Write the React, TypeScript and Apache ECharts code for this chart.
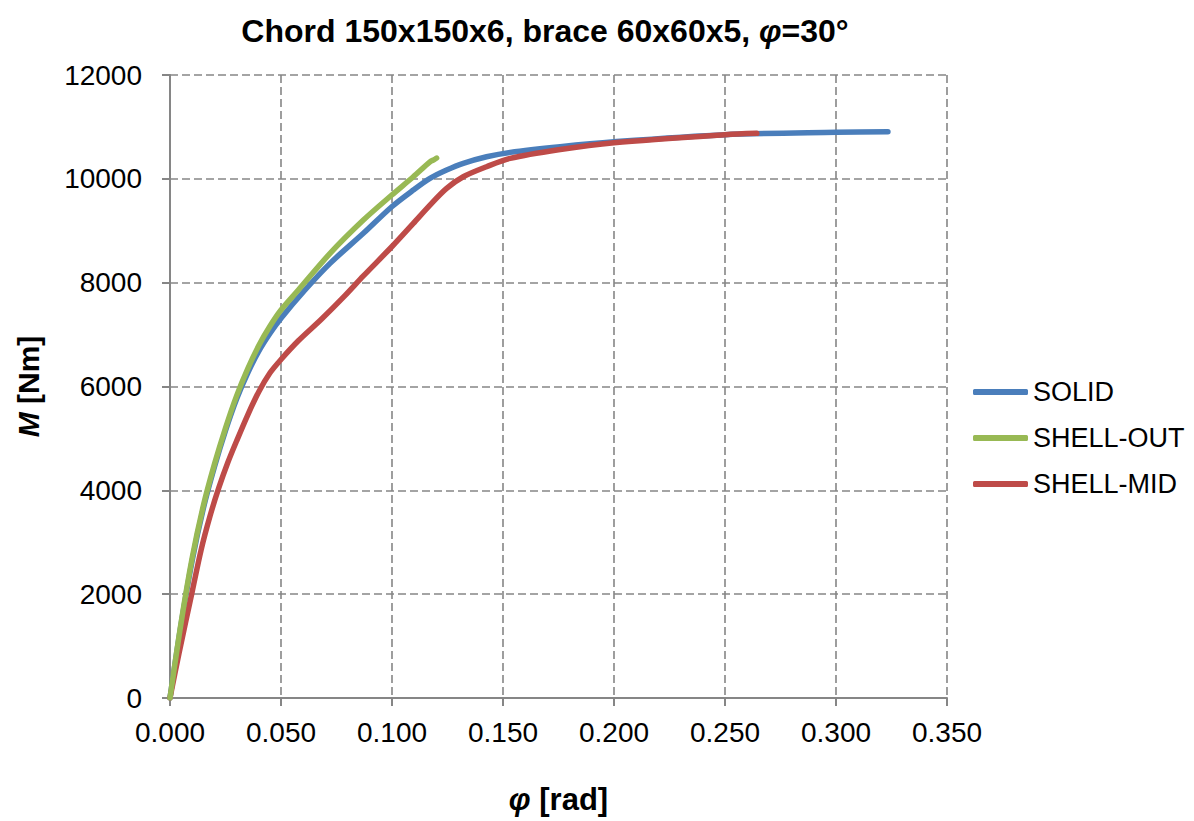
import React, { useEffect, useRef } from "react";
import * as echarts from "echarts";

const seriesNames = ["SOLID", "SHELL-OUT", "SHELL-MID"];
const seriesColors = ["#4A7EBB", "#98B954", "#BE4B48"];

const solid: [number, number][] = [
  [0, 0], [0.005, 1420], [0.01, 2650], [0.015, 3650], [0.02, 4450],
  [0.025, 5150], [0.03, 5760], [0.035, 6260], [0.04, 6680], [0.045, 7020],
  [0.05, 7313], [0.0608, 7858], [0.0721, 8372], [0.0871, 8950], [0.0999, 9463],
  [0.1096, 9784], [0.1171, 10009], [0.1246, 10169], [0.1321, 10298], [0.1426, 10425],
  [0.1532, 10510], [0.1757, 10620], [0.2, 10714], [0.25, 10850], [0.3, 10895],
  [0.3234, 10907],
];

const shellOut: [number, number][] = [
  [0, 0], [0.005, 1450], [0.01, 2700], [0.015, 3700], [0.02, 4500],
  [0.025, 5200], [0.03, 5820], [0.035, 6340], [0.04, 6790], [0.045, 7160],
  [0.05, 7473], [0.0578, 7858], [0.0721, 8565], [0.0871, 9206], [0.0999, 9688],
  [0.1096, 10040], [0.1171, 10329], [0.119, 10370], [0.1201, 10400],
];

const shellMid: [number, number][] = [
  [0, 0], [0.004, 850], [0.01, 2050], [0.014, 2850], [0.018, 3500],
  [0.022, 4050], [0.026, 4530], [0.03, 4950], [0.035, 5450], [0.04, 5900],
  [0.045, 6260], [0.05, 6520], [0.0578, 6880], [0.0683, 7300], [0.0788, 7750],
  [0.0871, 8130], [0.0999, 8692], [0.1096, 9142], [0.1171, 9495], [0.1246, 9816],
  [0.1321, 10040], [0.1426, 10233], [0.1532, 10394], [0.175, 10560], [0.2, 10695],
  [0.25, 10850], [0.2643, 10876],
];

const seriesData = [solid, shellOut, shellMid];

const FONT = "'Liberation Sans', Arial, sans-serif";
const GRAY = "#868686";

export default function App() {
  const ref = useRef<HTMLDivElement>(null);

  useEffect(() => {
    if (!ref.current) return;
    const chart = echarts.init(ref.current, undefined, { renderer: "svg" });
    chart.setOption({
      animation: false,
      backgroundColor: "#ffffff",
      title: {
        text: "Chord 150x150x6, brace 60x60x5, {i|φ}=30°",
        left: 540,
        top: 10,
        textAlign: "center",
        textStyle: {
          fontFamily: FONT,
          fontWeight: "bold",
          fontSize: 32,
          color: "#000",
          rich: {
            i: { fontFamily: FONT, fontWeight: "bold", fontStyle: "italic", fontSize: 32, color: "#000" },
          },
        },
      },
      legend: {
        orient: "vertical",
        left: 973,
        top: 378,
        padding: 0,
        icon: "roundRect",
        itemWidth: 55,
        itemHeight: 6,
        itemGap: 18,
        textStyle: { fontFamily: FONT, fontSize: 27, color: "#000", lineHeight: 28 },
        data: seriesNames,
      },
      grid: { left: 170, right: 247, top: 75, bottom: 123 },
      xAxis: {
        type: "value",
        min: 0,
        max: 0.35,
        interval: 0.05,
        name: "{i|φ} [rad]",
        nameLocation: "middle",
        nameGap: 86,
        nameTextStyle: {
          fontFamily: FONT, fontWeight: "bold", fontSize: 31, color: "#000",
          rich: { i: { fontFamily: FONT, fontWeight: "bold", fontStyle: "italic", fontSize: 31, color: "#000" } },
        },
        axisLine: { show: true, onZero: false, lineStyle: { color: GRAY, width: 2 } },
        axisTick: { show: true, length: 8, lineStyle: { color: GRAY, width: 2 } },
        axisLabel: {
          fontFamily: FONT, fontSize: 28, color: "#000", margin: 20,
          formatter: (v: number) => v.toFixed(3),
        },
        splitLine: { show: true, lineStyle: { color: GRAY, width: 1.6, type: [8, 4] } },
      },
      yAxis: {
        type: "value",
        min: 0,
        max: 12000,
        interval: 2000,
        name: "{i|M} [Nm]",
        nameLocation: "middle",
        nameGap: 127,
        nameTextStyle: {
          fontFamily: FONT, fontWeight: "bold", fontSize: 30, color: "#000",
          rich: { i: { fontFamily: FONT, fontWeight: "bold", fontStyle: "italic", fontSize: 30, color: "#000" } },
        },
        axisLine: { show: true, lineStyle: { color: GRAY, width: 2 } },
        axisTick: { show: true, length: 8, lineStyle: { color: GRAY, width: 2 } },
        axisLabel: {
          fontFamily: FONT, fontSize: 28, color: "#000", margin: 28,
          formatter: (v: number) => String(v),
        },
        splitLine: { show: true, lineStyle: { color: GRAY, width: 1.6, type: [8, 4] } },
      },
      series: seriesNames.map((name, i) => ({
        name,
        type: "line",
        data: seriesData[i],
        symbol: "none",
        smooth: 0.3,
        color: seriesColors[i],
        itemStyle: { color: seriesColors[i] },
        lineStyle: { color: seriesColors[i], width: 5.5, cap: "round", join: "round" },
        z: i === 0 ? 2 : i === 1 ? 4 : 3,
      })),
    });
    return () => chart.dispose();
  }, []);

  return (
    <div
      ref={ref}
      style={{ position: "fixed", left: 0, top: 0, width: 1194, height: 821, background: "#fff" }}
    />
  );
}
